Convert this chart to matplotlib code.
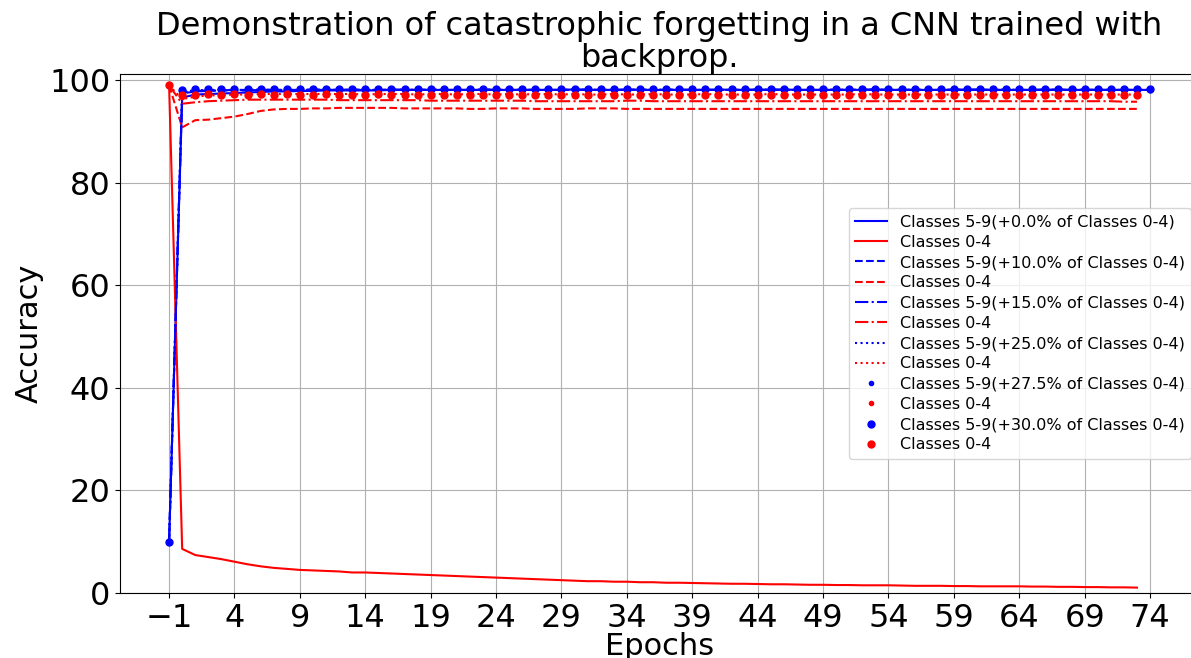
import matplotlib
matplotlib.use("Agg")
import matplotlib.pyplot as plt

# epochs: -1 is the accuracy before training on the new classes
epochs_new = list(range(-1, 75))
epochs_old = list(range(-1, 74))

replay_pcts = [0.0, 10.0, 15.0, 25.0, 27.5, 30.0]
styles = ['-', '--', '-.', ':', '.', 'o']

# accuracy on classes 5-9 (new task)
acc_new_0 = [10.0, 96.6, 97.2, 97.3, 97.4, 97.5, 97.6, 97.7, 97.8, 97.8,
             97.9, 97.9, 98.0, 98.0, 98.0, 98.0, 98.0, 98.1, 98.1, 98.1,
             98.1, 98.1, 98.1, 98.1, 98.1, 98.1, 98.1, 98.1, 98.1, 98.1,
             98.1, 98.2, 98.1, 98.1, 98.1, 98.2, 98.1, 98.1, 98.1, 98.1,
             98.1, 98.1, 98.2, 98.1, 98.1, 98.1, 98.1, 98.2, 98.1, 98.1,
             98.1, 98.1, 98.1, 98.1, 98.2, 98.1, 98.1, 98.1, 98.1, 98.1,
             98.1, 98.2, 98.1, 98.1, 98.1, 98.1, 98.1, 98.1, 98.2, 98.1,
             98.1, 98.1, 98.1, 98.1, 98.1, 98.1]
acc_new_10 = [10.0, 97.4, 97.8, 97.9, 98.0, 98.0, 98.0, 98.1, 98.1, 98.1,
              98.1, 98.1, 98.1, 98.1, 98.2, 98.1, 98.1, 98.1, 98.1, 98.1,
              98.2, 98.1, 98.1, 98.1, 98.1, 98.1, 98.1, 98.2, 98.1, 98.1,
              98.1, 98.1, 98.1, 98.1, 98.1, 98.1, 98.2, 98.1, 98.1, 98.1,
              98.1, 98.1, 98.1, 98.1, 98.1, 98.2, 98.1, 98.1, 98.1, 98.1,
              98.1, 98.1, 98.1, 98.2, 98.1, 98.1, 98.1, 98.1, 98.1, 98.1,
              98.1, 98.1, 98.2, 98.1, 98.1, 98.1, 98.1, 98.1, 98.1, 98.1,
              98.2, 98.1, 98.1, 98.1, 98.1, 98.1]
acc_new_15 = [10.0, 97.6, 97.9, 98.0, 98.0, 98.1, 98.1, 98.1, 98.1, 98.1,
              98.1, 98.2, 98.1, 98.1, 98.1, 98.1, 98.1, 98.2, 98.1, 98.1,
              98.1, 98.1, 98.1, 98.1, 98.2, 98.1, 98.1, 98.1, 98.1, 98.1,
              98.1, 98.1, 98.2, 98.1, 98.1, 98.1, 98.1, 98.1, 98.1, 98.2,
              98.1, 98.1, 98.1, 98.1, 98.1, 98.1, 98.2, 98.1, 98.1, 98.1,
              98.1, 98.1, 98.1, 98.1, 98.2, 98.1, 98.1, 98.1, 98.1, 98.1,
              98.2, 98.1, 98.1, 98.1, 98.1, 98.1, 98.1, 98.2, 98.1, 98.1,
              98.1, 98.1, 98.1, 98.1, 98.1, 98.1]
acc_new_25 = [10.0, 97.8, 98.0, 98.1, 98.1, 98.1, 98.1, 98.2, 98.1, 98.1,
              98.1, 98.1, 98.2, 98.1, 98.1, 98.1, 98.1, 98.1, 98.2, 98.1,
              98.1, 98.1, 98.1, 98.1, 98.1, 98.2, 98.1, 98.1, 98.1, 98.1,
              98.1, 98.2, 98.1, 98.1, 98.1, 98.1, 98.1, 98.1, 98.2, 98.1,
              98.1, 98.1, 98.1, 98.1, 98.2, 98.1, 98.1, 98.1, 98.1, 98.1,
              98.1, 98.2, 98.1, 98.1, 98.1, 98.1, 98.1, 98.2, 98.1, 98.1,
              98.1, 98.1, 98.1, 98.1, 98.2, 98.1, 98.1, 98.1, 98.1, 98.1,
              98.1, 98.2, 98.1, 98.1, 98.1, 98.1]
acc_new_27 = [10.0, 97.9, 98.1, 98.1, 98.1, 98.2, 98.1, 98.1, 98.1, 98.2,
              98.1, 98.1, 98.1, 98.2, 98.1, 98.1, 98.1, 98.1, 98.2, 98.1,
              98.1, 98.1, 98.2, 98.1, 98.1, 98.1, 98.1, 98.2, 98.1, 98.1,
              98.1, 98.1, 98.2, 98.1, 98.1, 98.1, 98.2, 98.1, 98.1, 98.1,
              98.1, 98.2, 98.1, 98.1, 98.1, 98.1, 98.2, 98.1, 98.1, 98.1,
              98.2, 98.1, 98.1, 98.1, 98.1, 98.2, 98.1, 98.1, 98.1, 98.1,
              98.2, 98.1, 98.1, 98.1, 98.2, 98.1, 98.1, 98.1, 98.1, 98.2,
              98.1, 98.1, 98.1, 98.1, 98.2, 98.1]
acc_new_30 = [10.0, 98.1, 98.2, 98.2, 98.2, 98.2, 98.2, 98.2, 98.2, 98.2,
              98.2, 98.2, 98.2, 98.2, 98.2, 98.2, 98.2, 98.2, 98.2, 98.2,
              98.2, 98.2, 98.2, 98.2, 98.2, 98.2, 98.2, 98.2, 98.2, 98.2,
              98.2, 98.2, 98.2, 98.2, 98.2, 98.2, 98.2, 98.2, 98.2, 98.2,
              98.2, 98.2, 98.2, 98.2, 98.2, 98.2, 98.2, 98.2, 98.2, 98.2,
              98.2, 98.2, 98.2, 98.2, 98.2, 98.2, 98.2, 98.2, 98.2, 98.2,
              98.2, 98.2, 98.2, 98.2, 98.2, 98.2, 98.2, 98.2, 98.2, 98.2,
              98.2, 98.2, 98.2, 98.2, 98.2, 98.2]

# accuracy on classes 0-4 (old task)
acc_old_0 = [99.0, 8.6, 7.4, 7.0, 6.6, 6.1, 5.6, 5.2, 4.9, 4.7,
             4.5, 4.4, 4.3, 4.2, 4.0, 4.0, 3.9, 3.8, 3.7, 3.6,
             3.5, 3.4, 3.3, 3.2, 3.1, 3.0, 2.9, 2.8, 2.7, 2.6,
             2.5, 2.4, 2.3, 2.3, 2.2, 2.2, 2.1, 2.1, 2.0, 2.0,
             1.95, 1.9, 1.85, 1.8, 1.8, 1.75, 1.7, 1.7, 1.65, 1.6,
             1.6, 1.55, 1.55, 1.5, 1.5, 1.5, 1.45, 1.4, 1.4, 1.4,
             1.35, 1.35, 1.3, 1.3, 1.3, 1.3, 1.25, 1.25, 1.2, 1.2,
             1.15, 1.15, 1.1, 1.1, 1.05]
acc_old_10 = [99.0, 90.8, 92.2, 92.3, 92.6, 92.9, 93.4, 94.0, 94.3, 94.4,
              94.4, 94.5, 94.5, 94.6, 94.6, 94.6, 94.6, 94.6, 94.5, 94.5,
              94.5, 94.5, 94.5, 94.4, 94.4, 94.5, 94.5, 94.5, 94.4, 94.4,
              94.4, 94.4, 94.5, 94.5, 94.5, 94.4, 94.4, 94.4, 94.4, 94.4,
              94.4, 94.4, 94.4, 94.4, 94.4, 94.4, 94.4, 94.4, 94.4, 94.4,
              94.4, 94.4, 94.4, 94.4, 94.4, 94.4, 94.4, 94.4, 94.4, 94.4,
              94.4, 94.4, 94.4, 94.4, 94.4, 94.4, 94.4, 94.4, 94.4, 94.4,
              94.4, 94.4, 94.4, 94.4, 94.4]
acc_old_15 = [99.0, 95.4, 95.7, 95.9, 96.0, 96.1, 96.2, 96.2, 96.2, 96.2,
              96.2, 96.2, 96.2, 96.1, 96.1, 96.1, 96.1, 96.1, 96.1, 96.1,
              96.0, 96.0, 96.0, 96.0, 96.0, 96.0, 96.0, 96.0, 95.9, 95.9,
              95.9, 95.9, 95.9, 95.9, 95.9, 96.0, 96.0, 95.9, 95.9, 95.9,
              95.9, 95.9, 95.9, 95.9, 95.9, 95.9, 95.9, 95.9, 95.9, 95.9,
              95.9, 95.9, 95.9, 95.9, 95.9, 95.9, 95.9, 95.9, 95.9, 95.9,
              95.9, 95.9, 95.9, 95.9, 95.9, 95.9, 95.9, 95.9, 95.9, 95.9,
              95.9, 95.9, 95.9, 95.8, 95.8]
acc_old_25 = [99.0, 96.3, 96.8, 97.0, 97.1, 97.2, 97.2, 97.3, 97.3, 97.3,
              97.3, 97.3, 97.3, 97.3, 97.3, 97.2, 97.3, 97.3, 97.3, 97.2,
              97.3, 97.3, 97.2, 97.3, 97.3, 97.2, 97.3, 97.2, 97.3, 97.3,
              97.2, 97.3, 97.2, 97.2, 97.3, 97.2, 97.2, 97.3, 97.2, 97.2,
              97.2, 97.3, 97.2, 97.2, 97.2, 97.2, 97.3, 97.2, 97.2, 97.2,
              97.2, 97.2, 97.2, 97.3, 97.2, 97.2, 97.2, 97.2, 97.2, 97.2,
              97.2, 97.2, 97.2, 97.2, 97.2, 97.2, 97.2, 97.2, 97.2, 97.2,
              97.2, 97.2, 97.2, 97.2, 97.2]
acc_old_27 = [99.0, 96.8, 97.2, 97.3, 97.3, 97.3, 97.3, 97.3, 97.3, 97.3,
              97.3, 97.3, 97.2, 97.3, 97.3, 97.3, 97.2, 97.3, 97.3, 97.3,
              97.3, 97.2, 97.3, 97.3, 97.2, 97.3, 97.3, 97.2, 97.3, 97.3,
              97.2, 97.3, 97.2, 97.3, 97.3, 97.2, 97.3, 97.2, 97.3, 97.2,
              97.3, 97.2, 97.3, 97.2, 97.2, 97.3, 97.2, 97.3, 97.2, 97.2,
              97.3, 97.2, 97.2, 97.3, 97.2, 97.2, 97.3, 97.2, 97.2, 97.2,
              97.3, 97.2, 97.2, 97.2, 97.3, 97.2, 97.2, 97.2, 97.2, 97.3,
              97.2, 97.2, 97.2, 97.2, 97.2]
acc_old_30 = [99.0, 97.1, 97.2, 97.3, 97.2, 97.3, 97.2, 97.3, 97.2, 97.3,
              97.2, 97.2, 97.3, 97.2, 97.2, 97.2, 97.3, 97.2, 97.2, 97.2,
              97.2, 97.2, 97.2, 97.2, 97.2, 97.2, 97.2, 97.2, 97.2, 97.2,
              97.2, 97.2, 97.2, 97.2, 97.2, 97.2, 97.2, 97.2, 97.2, 97.2,
              97.2, 97.2, 97.2, 97.2, 97.2, 97.2, 97.2, 97.2, 97.2, 97.2,
              97.2, 97.2, 97.2, 97.2, 97.2, 97.2, 97.2, 97.2, 97.2, 97.2,
              97.2, 97.2, 97.2, 97.2, 97.2, 97.2, 97.2, 97.2, 97.2, 97.2,
              97.2, 97.2, 97.2, 97.2, 97.2]

acc_new = [acc_new_0, acc_new_10, acc_new_15, acc_new_25, acc_new_27, acc_new_30]
acc_old = [acc_old_0, acc_old_10, acc_old_15, acc_old_25, acc_old_27, acc_old_30]

fig = plt.figure(figsize=(11.91, 6.58), dpi=100)
ax = fig.add_axes([0.1008, 0.0988, 0.906, 0.7887])

for pct, st, new, old in zip(replay_pcts, styles, acc_new, acc_old):
    kw = dict(markersize=5) if st == 'o' else {}
    ax.plot(epochs_new, new, 'b' + st,
            label='Classes 5-9(+{}% of Classes 0-4)'.format(pct), **kw)
    ax.plot(epochs_old, old, 'r' + st, label='Classes 0-4', **kw)

ax.set_xticks(list(range(-1, 75, 5)))
ax.set_ylim(0, 101.2)
ax.tick_params(labelsize=23)
ax.grid(True)
ax.set_xlabel('Epochs', fontsize=22, labelpad=-1)
ax.set_ylabel('Accuracy', fontsize=22)
ax.set_title('Demonstration of catastrophic forgetting in a CNN trained with\nbackprop.',
             fontsize=23, pad=1, linespacing=1.05)
ax.legend(loc='center right', fontsize=11.5, labelspacing=0.33)

fig.savefig('out.png', dpi=100)
